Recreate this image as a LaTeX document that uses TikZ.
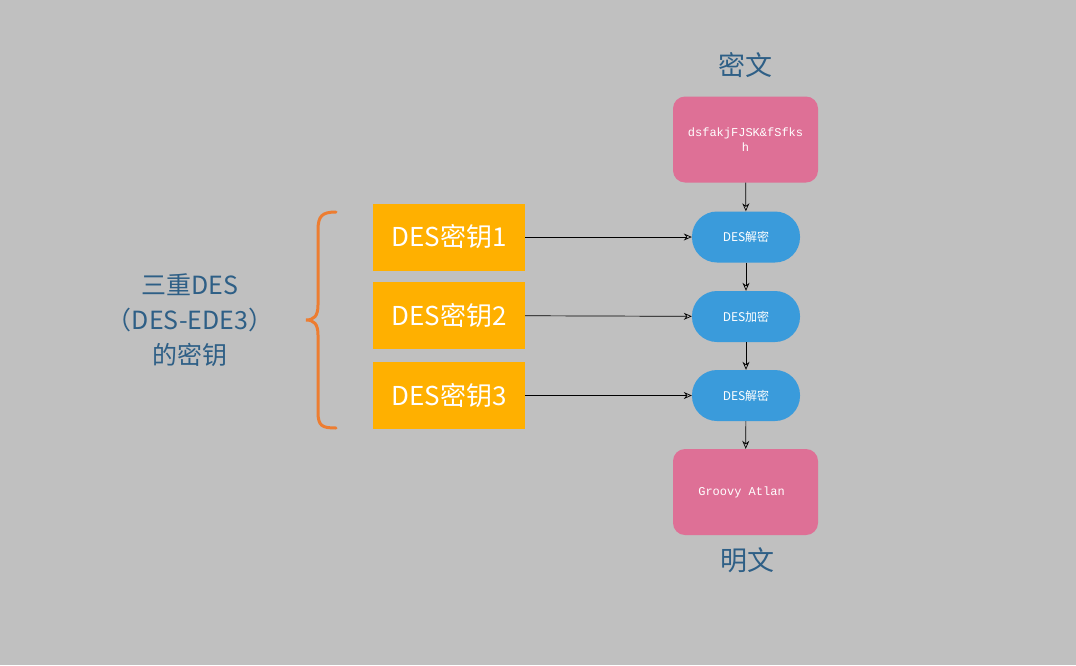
\documentclass[tikz,border=0pt]{standalone}
\usepackage{fontspec}
\setmainfont{Liberation Serif}
\newfontfamily\cjk{Noto Sans CJK SC}
\newfontfamily\mono{Liberation Mono}
\usetikzlibrary{arrows.meta}
\definecolor{bg}{HTML}{C0C0C0}
\definecolor{pinkc}{HTML}{DE7096}
\definecolor{bluec}{HTML}{3A9BDB}
\definecolor{orc}{HTML}{FFB000}
\definecolor{brc}{HTML}{ED7D31}
\definecolor{txtc}{HTML}{2E5F86}
\begin{document}
\begin{tikzpicture}[x=1pt,y=-1pt,
  pinkbox/.style={fill=pinkc,rounded corners=12pt,minimum width=145pt,minimum height=86pt,inner sep=0pt,text=white,font=\mono\fontsize{12}{15}\selectfont},
  pill/.style={fill=bluec,rounded corners=25pt,minimum width=108pt,minimum height=51pt,inner sep=0pt,text=white,font=\cjk\fontsize{12}{14}\selectfont},
  key/.style={fill=orc,minimum width=152pt,minimum height=67pt,inner sep=0pt,text=white,font=\cjk\fontsize{26}{30}\selectfont\itshape},
  lab/.style={text=txtc,font=\cjk\fontsize{27}{32}\selectfont},
  arr/.style={-{Stealth[length=8pt,width=7pt,open]},black,line width=0.7pt}]
\fill[bg] (0,0) rectangle (1076,665);
\node[lab] (t1) at (745,65) {密文};
\node[pinkbox,align=center] (c) at (745.5,139.5) {dsfakjFJSK\&fSfks\\h};
\node[pill] (p1) at (746,237) {DES解密};
\node[pill] (p2) at (746,316.5) {DES加密};
\node[pill] (p3) at (746,395.5) {DES解密};
\node[pinkbox] (m) at (745.5,492) {\hspace*{-8pt}Groovy Atlan};
\node[lab] (t2) at (747,560) {明文};
\node[key] (k1) at (449,237) {DES密钥1};
\node[key] (k2) at (449,315.5) {DES密钥2};
\node[key] (k3) at (449,395.5) {DES密钥3};
\node[lab,align=center,font=\cjk\fontsize{25}{35}\selectfont] (l) at (190,320) {三重DES\\（DES-EDE3）\\的密钥};
\draw[arr] (k1) -- (p1);
\draw[arr] (k2) -- (p2);
\draw[arr] (k3) -- (p3);
\draw[arr] (c) -- (p1);
\draw[arr] (p1) -- (p2);
\draw[arr] (p2) -- (p3);
\draw[arr] (p3) -- (m);
\draw[brc,line width=3pt,line cap=round] (336,212) .. controls (322,212) and (318,216) .. (318,230) -- (318,305) .. controls (318,316) and (314,320) .. (306,320) .. controls (314,320) and (318,324) .. (318,335) -- (318,412) .. controls (318,426) and (322,428) .. (336,428);
\end{tikzpicture}
\end{document}
